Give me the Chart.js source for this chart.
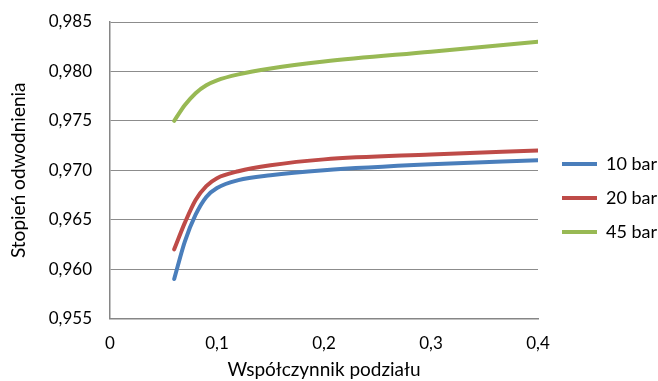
<!DOCTYPE html>
<html lang="pl">
<head>
<meta charset="utf-8">
<title>Stopień odwodnienia</title>
<script src="https://cdn.jsdelivr.net/npm/chart.js@4/dist/chart.umd.min.js"></script>
<style>
  html, body { margin: 0; padding: 0; background: #fff; }
  #wrap { width: 658px; height: 381px; }
</style>
</head>
<body>
<div id="wrap"><canvas id="c" width="658" height="381"></canvas></div>
<script>
// Współczynnik podziału (oś X)
const splitRatio = [0.06, 0.07, 0.08, 0.09, 0.10, 0.12, 0.15, 0.20, 0.30, 0.40];
// Stopień odwodnienia dla poszczególnych ciśnień
const bar10 = [0.9590, 0.9628, 0.9655, 0.9673, 0.9682, 0.9690, 0.9695, 0.9700, 0.9706, 0.9710];
const bar20 = [0.9620, 0.9647, 0.9670, 0.9684, 0.9692, 0.9699, 0.9705, 0.9711, 0.9716, 0.9720];
const bar45 = [0.9750, 0.9766, 0.9778, 0.9786, 0.9791, 0.9797, 0.9803, 0.9810, 0.9820, 0.9830];
const seriesNames = ['10 bar', '20 bar', '45 bar'];
const xTicks = [0, 0.1, 0.2, 0.3, 0.4];
const yTicks = [0.955, 0.960, 0.965, 0.970, 0.975, 0.980, 0.985];

const colors = ['#4a7ebb', '#be4b48', '#98b954'];
const FONT = 'Lato, "Open Sans", sans-serif';
const plCommaFmt = (v, digits) => v.toFixed(digits).replace('.', ',');

const toPoints = ys => ys.map((y, i) => ({ x: splitRatio[i], y }));

const datasets = [bar10, bar20, bar45].map((ys, i) => ({
  label: seriesNames[i],
  data: toPoints(ys),
  borderColor: colors[i],
  backgroundColor: colors[i],
  borderWidth: 4,
  borderCapStyle: 'round',
  borderJoinStyle: 'round',
  pointRadius: 0,
  pointHoverRadius: 0,
  cubicInterpolationMode: 'monotone',
  fill: false
}));

new Chart(document.getElementById('c'), {
  type: 'line',
  data: { datasets },
  options: {
    responsive: false,
    devicePixelRatio: 1,
    animation: false,
    events: [],
    layout: { padding: { top: 22, right: 0, bottom: 0, left: 0 } },
    plugins: {
      tooltip: { enabled: false },
      legend: {
        position: 'right',
        align: 'start',
        maxWidth: 120,
        // empty title only reserves the space above the entries
        title: { display: true, text: ' ', font: { size: 10, lineHeight: '12px' }, padding: { top: 97, bottom: 0 } },
        labels: {
          color: '#000',
          font: { family: FONT, size: 18, lineHeight: '10px' },
          boxWidth: 35,
          boxHeight: 4,
          padding: 24,
          generateLabels: chart => chart.data.datasets.map((ds, i) => ({
            text: [ds.label],
            fillStyle: ds.borderColor,
            strokeStyle: ds.borderColor,
            lineWidth: 0,
            hidden: false,
            datasetIndex: i,
            fontColor: '#000'
          }))
        }
      }
    },
    scales: {
      x: {
        type: 'linear',
        min: xTicks[0],
        max: xTicks[xTicks.length - 1],
        afterBuildTicks: s => { s.ticks = xTicks.map(v => ({ value: v })); },
        afterFit: s => { s.height = 62.5; },
        grid: { display: false, drawTicks: false },
        border: { display: true, color: '#868686', width: 1.5 },
        ticks: {
          color: '#000',
          padding: 15,
          maxRotation: 0,
          font: { family: FONT, size: 17 },
          callback: v => (v === 0 ? '0' : plCommaFmt(v, 1))
        },
        title: {
          display: true,
          text: 'Współczynnik podziału',
          color: '#000',
          font: { family: FONT, size: 19 },
          padding: { top: 0, bottom: 0 }
        }
      },
      y: {
        type: 'linear',
        min: yTicks[0],
        max: yTicks[yTicks.length - 1],
        afterBuildTicks: s => { s.ticks = yTicks.map(v => ({ value: v })); },
        afterFit: s => { s.width = 110; s.paddingTop = 0; s.paddingBottom = 0; },
        grid: { display: true, color: '#8c8c8c', lineWidth: 1, drawTicks: false },
        border: { display: true, color: '#868686', width: 1.5 },
        ticks: {
          color: '#000',
          padding: 18,
          font: { family: FONT, size: 17 },
          callback: v => plCommaFmt(v, 3)
        },
        title: {
          display: true,
          text: 'Stopień odwodnienia',
          color: '#000',
          font: { family: FONT, size: 19 },
          padding: { top: 7, bottom: 0 }
        }
      }
    }
  }
});
</script>
</body>
</html>
